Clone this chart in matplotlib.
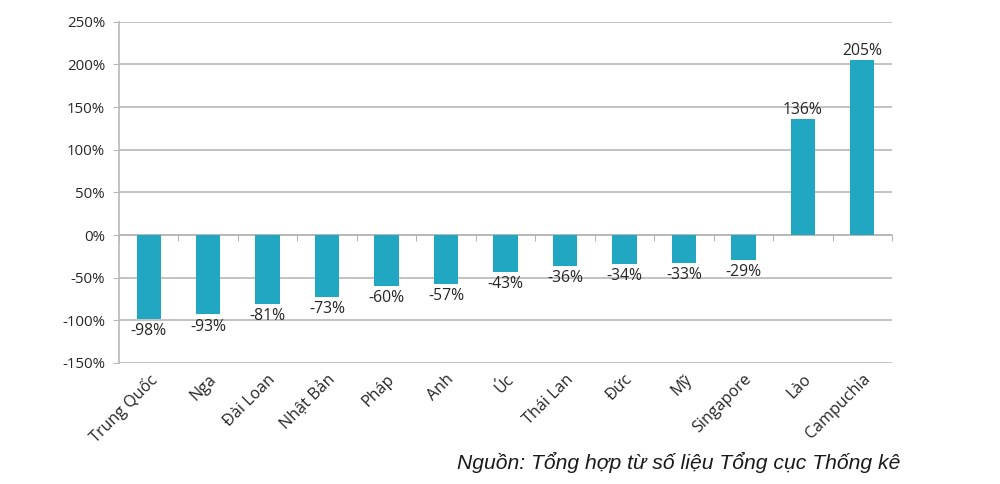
import matplotlib.pyplot as plt
import numpy as np

countries = ['Trung Quốc', 'Nga', 'Đài Loan', 'Nhật Bản', 'Pháp', 'Anh', 'Úc',
             'Thái Lan', 'Đức', 'Mỹ', 'Singapore', 'Lào', 'Campuchia']
change_pct = [-98, -93, -81, -73, -60, -57, -43, -36, -34, -33, -29, 136, 205]
y_ticks = [-150, -100, -50, 0, 50, 100, 150, 200, 250]
source_note = 'Nguồn: Tổng hợp từ số liệu Tổng cục Thống kê'

bar_color = '#21a7c2'
grid_color = '#b7b7b7'
text_color = '#262626'

plt.rcParams['font.family'] = ['Open Sans', 'DejaVu Sans']

fig = plt.figure(figsize=(10, 4.84), dpi=100)
ax = fig.add_axes([0.119, 0.25, 0.773, 0.705])

x = np.arange(len(countries))
ax.bar(x, change_pct, width=0.41, color=bar_color, zorder=3)

# data labels: below negative bars, above positive ones
for xi, v in zip(x, change_pct):
    if v < 0:
        ax.annotate(f'{v}%', (xi, v), xytext=(0, -3), textcoords='offset points',
                    ha='center', va='top', fontsize=11.3, color=text_color)
    else:
        ax.annotate(f'{v}%', (xi, v), xytext=(0, 1), textcoords='offset points',
                    ha='center', va='bottom', fontsize=11.3, color=text_color)

ax.set_xlim(-0.5, len(countries) - 0.5)
ax.set_ylim(min(y_ticks), max(y_ticks))
ax.set_yticks(y_ticks)
ax.set_yticklabels([f'{t}%' for t in y_ticks], fontsize=10.8, color=text_color)
ax.yaxis.grid(True, color=grid_color, linewidth=1.2, zorder=0)
ax.tick_params(axis='y', length=4, color=grid_color, pad=6)

ax.set_xticks(x)
ax.set_xticklabels(countries, rotation=45, ha='right', rotation_mode='anchor',
                   fontsize=11.6, color=text_color)
ax.tick_params(axis='x', length=0, pad=6)

for side in ['top', 'right', 'bottom']:
    ax.spines[side].set_visible(False)
ax.spines['left'].set_color(grid_color)
ax.spines['left'].set_linewidth(1.2)

# category axis line at 0% with boundary ticks
zero_pos = (0 - min(y_ticks)) / (max(y_ticks) - min(y_ticks))
sec = ax.secondary_xaxis(zero_pos)
sec.set_xticks(np.arange(len(countries) + 1) - 0.5)
sec.set_xticklabels([])
sec.tick_params(axis='x', direction='out', length=4, color=grid_color)
sec.spines['bottom'].set_color(grid_color)
sec.spines['bottom'].set_linewidth(1.2)
sec.spines['top'].set_visible(False)

fig.text(0.900, 0.031, source_note, ha='right', va='baseline', fontsize=15.2,
         style='italic', family=['Liberation Sans', 'DejaVu Sans'], color='#1a1a1a')

fig.savefig('out.png', dpi=100, facecolor='white')
